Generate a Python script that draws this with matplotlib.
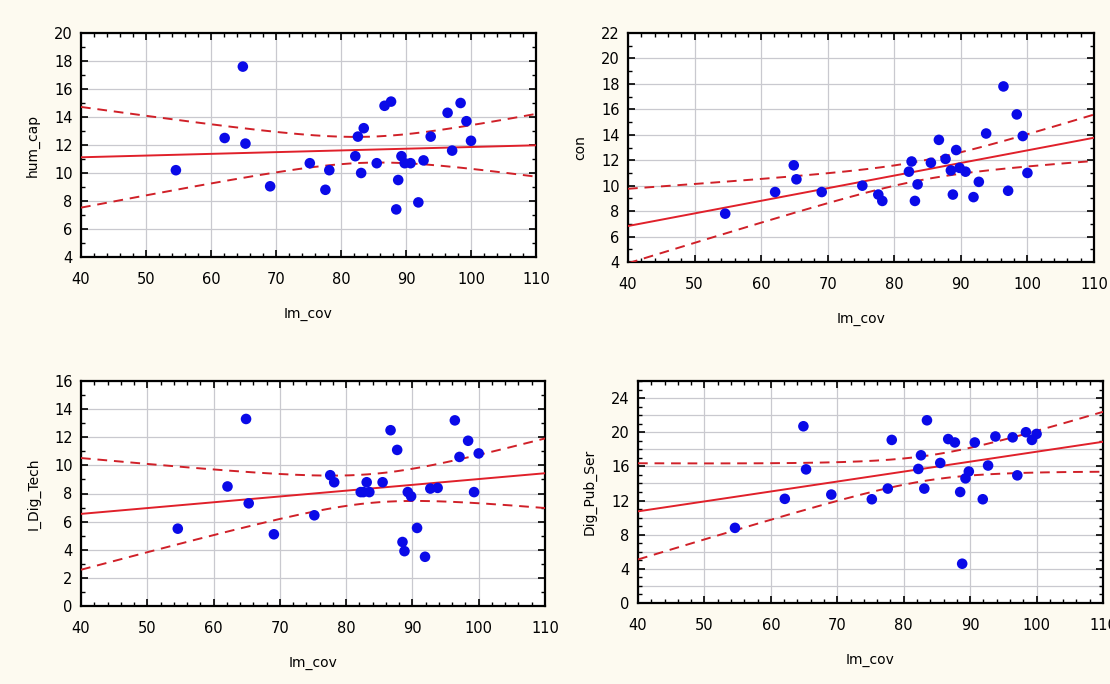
import numpy as np
import matplotlib
matplotlib.use("Agg")
import matplotlib.pyplot as plt
from matplotlib.ticker import MultipleLocator

# ---- data ----
im_cov = [54.6, 62.1, 64.9, 65.3, 69.1, 75.2, 77.6, 78.2, 82.2, 82.6, 83.1, 83.5,
          85.5, 86.7, 87.7, 88.5, 88.8, 89.3, 89.8, 90.7, 91.9, 92.7, 93.8, 96.4,
          97.1, 98.4, 99.3, 100.0]
hum_cap = [10.2, 12.5, 17.6, 12.1, 9.05, 10.7, 8.8, 10.2, 11.2, 12.6, 10.0, 13.2,
           10.7, 14.8, 15.1, 7.4, 9.5, 11.2, 10.7, 10.7, 7.9, 10.9, 12.6, 14.3,
           11.6, 15.0, 13.7, 12.3]
con = [7.8, 9.5, 11.6, 10.5, 9.5, 10.0, 9.3, 8.8, 11.1, 11.9, 8.8, 10.1,
       11.8, 13.6, 12.1, 11.2, 9.3, 12.8, 11.4, 11.1, 9.1, 10.3, 14.1, 17.8,
       9.6, 15.6, 13.9, 11.0]
i_dig_tech = [5.5, 8.5, 13.3, 7.3, 5.1, 6.45, 9.3, 8.8, 8.1, 8.1, 8.8, 8.1,
              8.8, 12.5, 11.1, 4.55, 3.9, 8.1, 7.8, 5.55, 3.5, 8.35, 8.4, 13.2,
              10.6, 11.75, 8.1, 10.85]
dig_pub_ser = [8.8, 12.2, 20.7, 15.65, 12.7, 12.15, 13.4, 19.1, 15.7, 17.3, 13.4, 21.4,
               16.4, 19.2, 18.8, 13.0, 4.6, 14.6, 15.4, 18.8, 12.15, 16.1, 19.5, 19.4,
               14.95, 20.0, 19.1, 19.8]

x_label = "Im_cov"
y_labels = ["hum_cap", "con", "I_Dig_Tech", "Dig_Pub_Ser"]
series = [hum_cap, con, i_dig_tech, dig_pub_ser]
y_limits = [(4, 20), (4, 22), (0, 16), (0, 26)]
y_major = [2, 2, 2, 4]
x_limits = (40, 110)

BG = "#FDFAF0"
fig = plt.figure(figsize=(11.1, 6.84), dpi=100, facecolor=BG)
W, H = 1110, 684
boxes = [(81, 33, 536, 257), (628, 33, 1094, 262), (81, 381, 545, 606), (638, 381, 1103, 603)]

font = ["Liberation Sans Narrow", "DejaVu Sans"]

t_crit = 2.0555  # df = 26, 95%

for k, (l, t, r, b) in enumerate(boxes):
    ax = fig.add_axes([l / W, 1 - b / H, (r - l) / W, (b - t) / H])
    ax.set_facecolor("white")
    x = np.array(im_cov)
    y = np.array(series[k])
    ax.set_xlim(*x_limits)
    ax.set_ylim(*y_limits[k])

    # regression with 95% confidence band
    n = len(x)
    slope, intercept = np.polyfit(x, y, 1)
    xs = np.linspace(x_limits[0], x_limits[1], 200)
    fit = intercept + slope * xs
    resid = y - (intercept + slope * x)
    s = np.sqrt(np.sum(resid ** 2) / (n - 2))
    sxx = np.sum((x - x.mean()) ** 2)
    half = t_crit * s * np.sqrt(1 / n + (xs - x.mean()) ** 2 / sxx)

    ax.plot(xs, fit, color="#E0202A", lw=1.4, zorder=3)
    ax.plot(xs, fit + half, color="#D02028", lw=1.4, ls=(0, (5, 3.5)), zorder=3)
    ax.plot(xs, fit - half, color="#D02028", lw=1.4, ls=(0, (5, 3.5)), zorder=3)
    ax.scatter(x, y, s=58, color="#0A0AE8", zorder=4, edgecolors="none")

    ax.xaxis.set_major_locator(MultipleLocator(10))
    ax.xaxis.set_minor_locator(MultipleLocator(2))
    ax.yaxis.set_major_locator(MultipleLocator(y_major[k]))
    ax.yaxis.set_minor_locator(MultipleLocator(1))
    ax.grid(True, which="major", axis="x", color="#C9C9CF", lw=0.9, zorder=0)
    ygrid = np.arange(y_limits[k][0], y_limits[k][1] + 0.01, 2)
    for g in ygrid:
        ax.axhline(g, color="#C9C9CF", lw=0.9, zorder=0)
    ax.tick_params(which="both", direction="in", top=True, right=True, color="black")
    ax.tick_params(which="major", length=5, width=1.2, labelsize=10.5)
    ax.tick_params(axis="x", which="major", pad=11)
    ax.tick_params(axis="y", which="major", pad=6)
    ax.tick_params(which="minor", length=3, width=1.0)
    for lab in ax.get_xticklabels() + ax.get_yticklabels():
        lab.set_family(font)
    for sp in ax.spines.values():
        sp.set_linewidth(1.6)
        sp.set_color("black")
    ax.set_xlabel(x_label, fontsize=10, family=font, labelpad=14)
    ax.set_ylabel(y_labels[k], fontsize=10, family=font, labelpad=10)

fig.savefig("out.png", dpi=100, facecolor=BG)
